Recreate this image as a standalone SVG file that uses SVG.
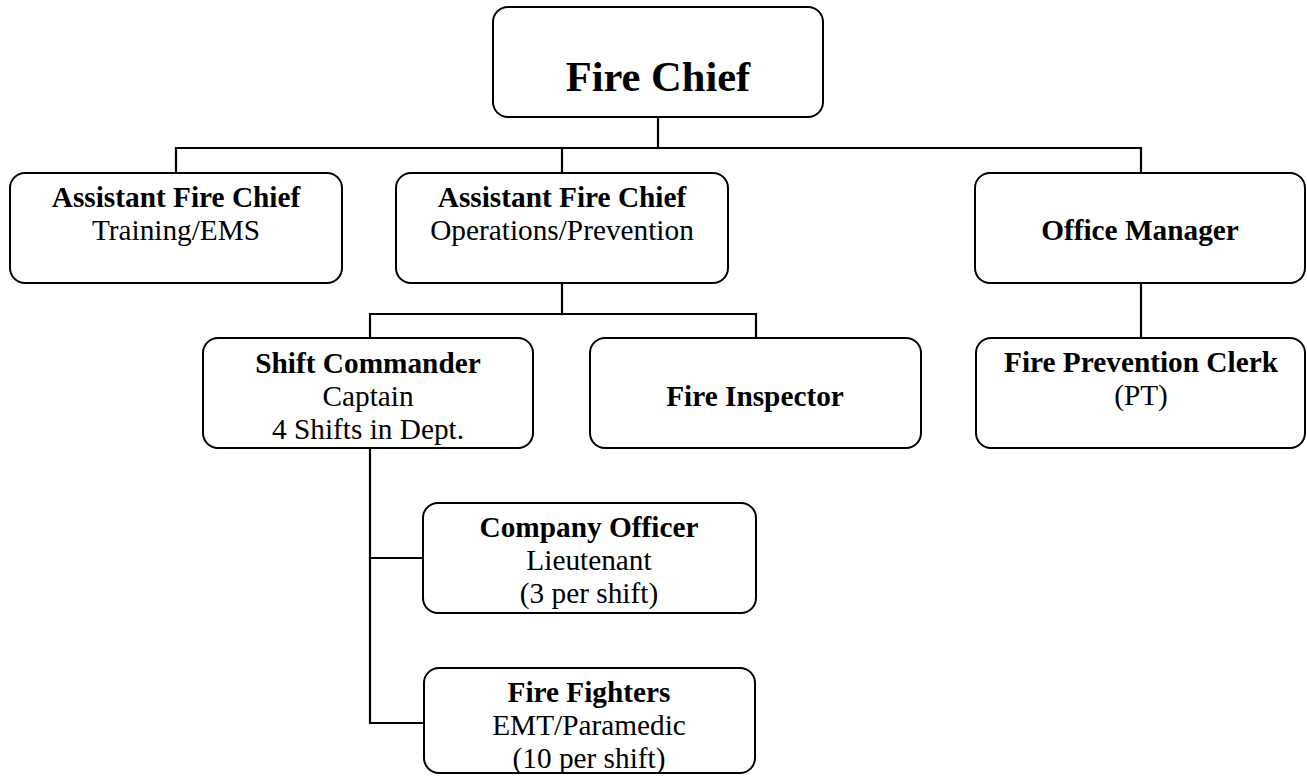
<svg xmlns="http://www.w3.org/2000/svg" width="1307" height="776" viewBox="0 0 1307 776">
  <style>
    .box { fill: #ffffff; stroke: #000000; stroke-width: 2; }
    .wire { fill: none; stroke: #000000; stroke-width: 2.2; stroke-linecap: square; }
    text { font-family: "Liberation Serif", "Times New Roman", serif; fill: #000000; text-anchor: middle; }
    .b { font-weight: bold; font-size: 29.3px; }
    .r { font-size: 29.3px; }
    .title { font-weight: bold; font-size: 42.5px; }
  </style>
  <rect width="1307" height="776" fill="#ffffff"/>

  <!-- reporting lines -->
  <g id="connectors">
    <path class="wire" d="M658 117 V148"/>
    <path class="wire" d="M176 173 V148 H1141 V173"/>
    <path class="wire" d="M562 148 V173"/>
    <path class="wire" d="M562 283 V314"/>
    <path class="wire" d="M370 338 V314 H756 V338"/>
    <path class="wire" d="M1141 283 V338"/>
    <path class="wire" d="M370 448 V723 H424"/>
    <path class="wire" d="M370 558 H423"/>
  </g>

  <g id="fire-chief">
    <rect class="box" x="493" y="7" width="330" height="110" rx="15"/>
    <text class="title" x="658" y="91">Fire Chief</text>
  </g>

  <g id="asst-chief-training">
    <rect class="box" x="10" y="173" width="332" height="110" rx="15"/>
    <text class="b" x="176" y="207">Assistant Fire Chief</text>
    <text class="r" x="176" y="240">Training/EMS</text>
  </g>

  <g id="asst-chief-operations">
    <rect class="box" x="396" y="173" width="332" height="110" rx="15"/>
    <text class="b" x="562" y="207">Assistant Fire Chief</text>
    <text class="r" x="562" y="240">Operations/Prevention</text>
  </g>

  <g id="office-manager">
    <rect class="box" x="975" y="173" width="330" height="110" rx="15"/>
    <text class="b" x="1140" y="240">Office Manager</text>
  </g>

  <g id="shift-commander">
    <rect class="box" x="203" y="338" width="330" height="110" rx="15"/>
    <text class="b" x="368" y="373">Shift Commander</text>
    <text class="r" x="368" y="406">Captain</text>
    <text class="r" x="368" y="439">4 Shifts in Dept.</text>
  </g>

  <g id="fire-inspector">
    <rect class="box" x="590" y="338" width="331" height="110" rx="15"/>
    <text class="b" x="755" y="406">Fire Inspector</text>
  </g>

  <g id="fire-prevention-clerk">
    <rect class="box" x="976" y="338" width="329" height="110" rx="15"/>
    <text class="b" x="1141" y="372">Fire Prevention Clerk</text>
    <text class="r" x="1141" y="405">(PT)</text>
  </g>

  <g id="company-officer">
    <rect class="box" x="423" y="503" width="333" height="110" rx="15"/>
    <text class="b" x="589" y="537">Company Officer</text>
    <text class="r" x="589" y="570">Lieutenant</text>
    <text class="r" x="589" y="603">(3 per shift)</text>
  </g>

  <g id="fire-fighters">
    <rect class="box" x="424" y="668" width="331" height="105" rx="15"/>
    <text class="b" x="589" y="702">Fire Fighters</text>
    <text class="r" x="589" y="735">EMT/Paramedic</text>
    <text class="r" x="589" y="768">(10 per shift)</text>
  </g>
</svg>
